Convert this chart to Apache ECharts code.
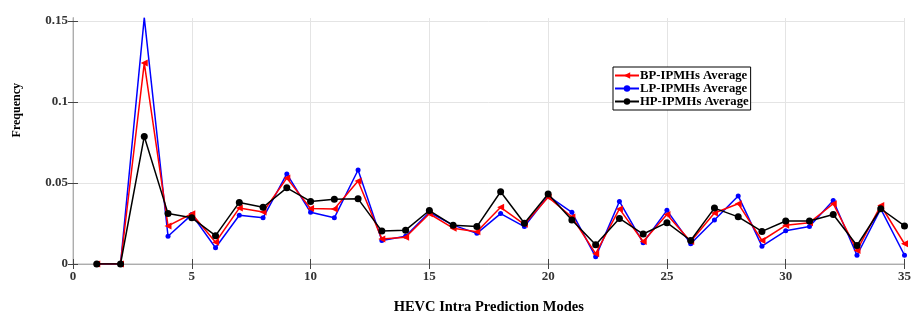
<!DOCTYPE html>
<html>
<head>
<meta charset="utf-8">
<script src="https://cdn.jsdelivr.net/npm/echarts@6/dist/echarts.min.js"></script>
<style>html,body{margin:0;padding:0;background:#fff}#c{width:914px;height:320px}</style>
</head>
<body>
<div id="c"></div>
<script>
const modes = [1,2,3,4,5,6,7,8,9,10,11,12,13,14,15,16,17,18,19,20,21,22,23,24,25,26,27,28,29,30,31,32,33,34,35];
const bpAvg = [0,0,0.124,0.0235,0.031,0.0134,0.0345,0.0321,0.053,0.0343,0.0339,0.0512,0.0155,0.0165,0.031,0.0221,0.0199,0.035,0.0245,0.0412,0.029,0.0064,0.034,0.0139,0.0305,0.0139,0.0315,0.0372,0.0145,0.0239,0.0255,0.0372,0.0084,0.0361,0.0125];
const lpAvg = [0,0,0.152,0.0171,0.0305,0.0100,0.0301,0.0285,0.0556,0.0319,0.0285,0.058,0.0145,0.0171,0.0319,0.024,0.0189,0.0311,0.0231,0.042,0.0319,0.0044,0.0386,0.0131,0.0331,0.0125,0.0271,0.042,0.011,0.0205,0.0231,0.0392,0.0054,0.034,0.0054];
const hpAvg = [0,0,0.0787,0.0311,0.0285,0.0175,0.038,0.035,0.047,0.0386,0.040,0.0402,0.0203,0.0209,0.033,0.0239,0.0231,0.0446,0.0251,0.0432,0.0271,0.0119,0.0281,0.0185,0.0255,0.0145,0.0345,0.0291,0.0201,0.0265,0.0265,0.0305,0.0114,0.0341,0.0235];
const seriesNames = ['BP-IPMHs Average','LP-IPMHs Average','HP-IPMHs Average'];
const yTickValues = [0, 0.05, 0.1, 0.15];
const xTitle = 'HEVC Intra Prediction Modes';
const yTitle = 'Frequency';

const pair = arr => modes.map((m,i)=>[m,arr[i]]);
const font = 'Liberation Serif';
const chart = echarts.init(document.getElementById('c'));
const dark = {show:true, lineStyle:{color:'#444', width:1}};
const light = {show:true, lineStyle:{color:'#d0d0d0', width:1.5}};
const tick = {show:true, inside:true, length:5, lineStyle:{color:'#444'}};
const yTick = Object.assign({}, tick, {customValues:yTickValues});
const yFmt = v => yTickValues.some(t => Math.abs(t - v) < 1e-9) ? String(Math.round(v*100)/100) : '';
chart.setOption({
  animation:false,
  grid:{left:73,right:8,top:18,bottom:51},
  legend:{
    orient:'vertical', left:613, top:67, itemWidth:24, itemHeight:8, itemGap:0,
    borderColor:'#000', borderWidth:1, padding:[2,2,2,1],
    backgroundColor:'#fff',
    textStyle:{fontFamily:font, fontWeight:'bold', fontSize:12.7, lineHeight:13, color:'#000', padding:[0,0,0,-4]},
    data:seriesNames
  },
  graphic:[{
    type:'text', left:11, top:83, rotation:Math.PI/2,
    style:{text:yTitle, fontFamily:font, fontWeight:'bold', fontSize:12, fill:'#000'}
  }],
  xAxis:[{
    type:'value', min:0, max:35, interval:5,
    name:xTitle, nameLocation:'middle', nameGap:36,
    nameTextStyle:{fontFamily:font, fontWeight:'bold', fontSize:14.5, color:'#000'},
    axisLine:dark, axisTick:tick,
    axisLabel:{fontFamily:font, fontWeight:'bold', fontSize:13, color:'#333', margin:6},
    splitLine:{show:true, lineStyle:{color:'#e4e4e4'}}
  },{
    type:'value', min:0, max:35, interval:5, position:'top',
    axisLine:light, axisTick:tick,
    axisLabel:{show:false}, splitLine:{show:false}
  }],
  yAxis:[{
    type:'value', min:0, max:0.1518, interval:0.05,
    axisLine:dark, axisTick:yTick,
    axisLabel:{fontFamily:font, fontWeight:'bold', fontSize:13, color:'#333', margin:5, formatter:yFmt},
    splitLine:{show:true, lineStyle:{color:'#e4e4e4'}}
  },{
    type:'value', min:0, max:0.1518, interval:0.05, position:'right',
    axisLine:light, axisTick:yTick,
    axisLabel:{show:false}, splitLine:{show:false}
  }],
  series:[
    {name:seriesNames[0], type:'line', data:pair(bpAvg), color:'#ff0000',
     symbol:'triangle', symbolRotate:90, symbolSize:7, lineStyle:{width:1.5}, z:3},
    {name:seriesNames[1], type:'line', data:pair(lpAvg), color:'#0000ff',
     symbol:'circle', symbolSize:5, lineStyle:{width:1.5}, z:2},
    {name:seriesNames[2], type:'line', data:pair(hpAvg), color:'#000000',
     symbol:'circle', symbolSize:7, lineStyle:{width:1.5}, z:4}
  ]
});
</script>
</body>
</html>
